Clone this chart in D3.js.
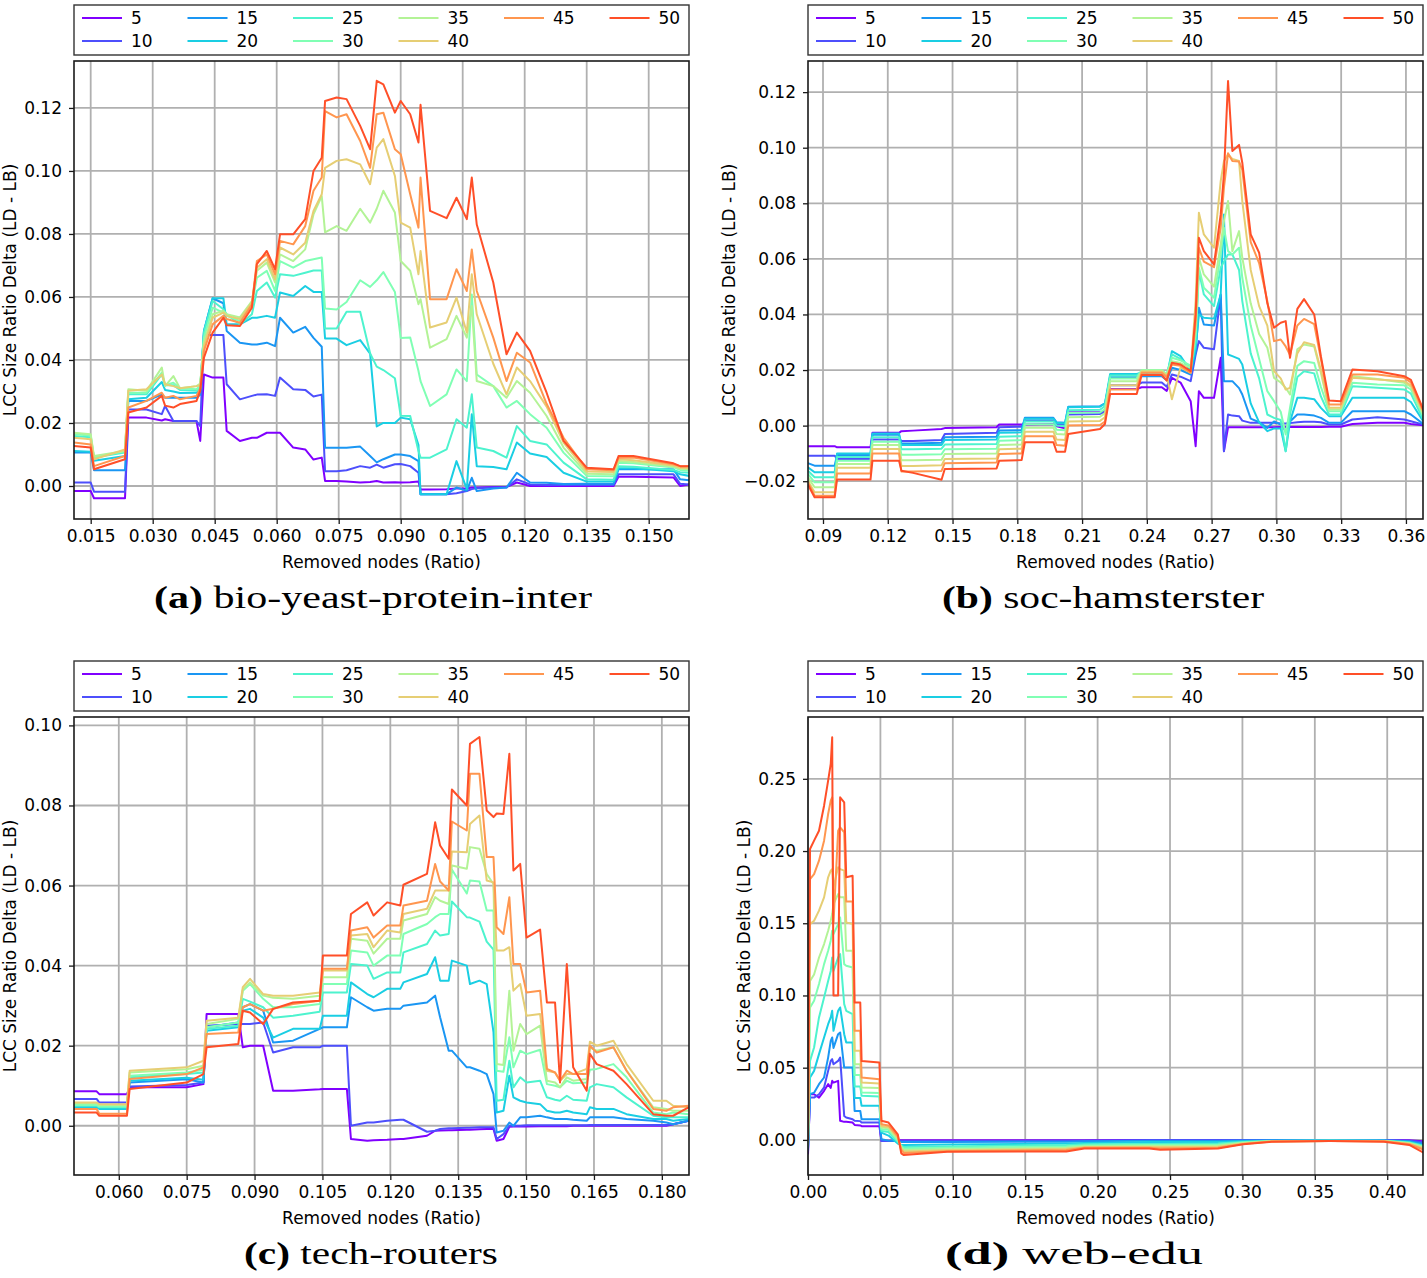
<!DOCTYPE html>
<html><head><meta charset="utf-8">
<script src="https://cdn.jsdelivr.net/npm/d3@7"></script>
<style>
body{margin:0;background:#fff;}
</style></head><body>
<svg id="chart" width="1427" height="1278"></svg>
<script>
// ---------- shared ----------
const seriesNames = ["5","10","15","20","25","30","35","40","45","50"];
const seriesColors = ["#8000ff","#4d4ffc","#1a96f3","#1acee3","#4df3ce","#80ffb4","#b3f396","#e6ce74","#ff964f","#ff4f28"];
const UNIT = 0.001; // series values below are in thousandths
const axisXLabel = "Removed nodes (Ratio)";
const axisYLabel = "LCC Size Ratio Delta (LD - LB)";

// ---------- (a) bio-yeast-protein-inter ----------
const xA = [0.01097,0.0150,0.0158,0.0233,0.0241,0.0285,0.0322,0.0330,0.0350,0.0366,0.0406,0.0415,0.0424,0.0445,0.0471,0.0479,0.0511,0.0540,0.0552,0.0576,0.0596,0.0608,0.0640,0.0669,0.0689,0.0709,0.0717,0.0745,0.0769,0.0802,0.0826,0.0842,0.0858,0.0886,0.0900,0.0923,0.0943,0.0948,0.0971,0.1011,0.1035,0.1060,0.1072,0.1084,0.1124,0.1156,0.1181,0.1213,0.1253,0.1294,0.1350,0.1415,0.1427,0.1463,0.1560,0.1576,0.1598];
const a5  = [-1.6,-1.6,-3.9,-3.9,21.7,21.7,20.8,21.2,20.6,20.6,20.6,14.3,35.4,34.4,34.4,17.5,14.3,15.3,15.3,16.9,16.9,16.9,12.2,11.6,8.4,9,1.6,1.6,1.4,1.1,1.3,1.6,1.1,1.2,1.1,1.2,1.4,-1.1,-1.1,-1,-0.8,-0.8,-0.5,-0.5,-0.3,-0.3,1.1,0,0,0,0,0,2.9,2.9,2.7,0,0.5];
const a10 = [1.1,1.1,-1.8,-1.8,24.3,24.3,22.8,25.4,20.6,20.6,20.6,19,47.9,47.9,47.9,32.3,27.5,28.6,29,29.1,28.6,34.4,30.7,30.5,28.4,29,4.7,4.7,5,6.3,5.8,6.8,5.8,6.9,7,6.3,4.2,-2.6,-2.6,-2.6,-2.3,-1.6,-1,-0.7,-0.5,-0.5,2.1,0.5,0.3,0.3,0.3,0.3,3.7,3.7,3.7,0.7,0.5];
const a15 = [10.6,10.6,5,5,27,27,29,28,28,28,28,29,49.2,59.6,58,49.2,45.5,44.9,44.9,45.5,44.4,53.4,48.7,50.5,47,44.2,12.1,12.1,12.1,12.5,9.5,7.5,8.5,10,10,9.5,7.9,-2.6,-2.6,-2.6,-0.5,-1.5,2.6,-1.6,-0.8,-0.5,4.2,1.1,1,0.6,0.7,0.7,5.3,5.3,5.3,2.1,1.8];
const a20 = [11.1,10.9,8,9.5,27.5,28,33,30.5,30,29.5,29.6,30.5,49.2,59.6,59.6,51.3,51.3,53.4,53.4,54,53.4,61.4,60.3,63.5,61.6,61.6,46.8,46.8,44.7,46.3,42,18.9,20,20,21.7,21.2,13,-2.6,-2.6,-2.6,7.9,-1,22.8,6.3,6,5.3,13.8,10.3,9.2,4.2,1.4,1.4,5.6,5.6,4.7,3.7,3.2];
const a25 = [15.9,15.5,9,10.6,29.1,29.1,35.4,32,32,30.5,30.2,31.5,48.7,58.7,56.1,54.5,51.3,54.5,61.9,64.6,59.8,67.2,66.7,67.7,68.4,68.4,50,50,55.3,55.3,42.1,37.9,36.8,34.2,22.3,22.2,11.1,9,9,11.6,21.2,18.5,29.1,12.2,11.1,9,19,14.3,13.2,7.4,2.1,2,6.3,6.1,5.1,4.4,4.2];
const a30 = [16.4,16,9,11.1,29.6,29.6,36,32,32.8,31,30.7,32,47.1,56.6,55,54,52.4,57.6,66.1,68.3,61.9,71.4,69.3,71.4,72,72.5,56.3,56,58.4,65.3,63.2,65.3,67.9,61.6,47,47.1,36.5,33.3,25.4,29.1,37,33.3,60.8,35.4,31.7,24.9,27,22.8,18.5,10.6,3.2,3.1,7.4,7.2,5.9,5.1,4.8];
const a35 = [16.9,16.4,9.5,11.1,30.7,30.2,37.6,31.7,34.9,31,31.7,32.5,45.5,54.5,55.6,54.5,53.5,58.7,68.3,70.9,64.6,73.5,71.4,75.1,86.2,92,80.5,82.5,81,88,83.6,88,93.7,86.8,71.4,68.3,57.7,59.3,43.9,46.6,54,47.1,57.1,33.3,31.7,28,33.3,29.6,22.2,12.2,3.9,3.7,7.9,7.6,6.2,5.5,5.3];
const a40 = [15.3,14.8,8.5,11.6,30.2,30.7,35.4,32.3,31.7,31,31.7,32,44.4,53.4,55,54,53,58.2,69.3,72,65.6,75.7,73.5,77.2,87.3,92.6,101,103.2,103.7,102.1,95.8,107.4,110.1,98.4,83.6,82,67.2,74.6,50.3,51.9,59.8,48.7,67.2,54.5,38.8,29.1,37.6,33.3,25.2,13.8,4.6,4.4,8.5,8.2,6.5,5.8,5.6];
const a45 = [13.8,13.2,6.3,9.5,24.9,27,29.6,28,28.6,27.5,28.6,31,42.9,51.3,54,53,51.8,57.6,71.4,73.5,67.2,77.8,76.7,82.5,93.7,97.9,119,117,118,109.5,101,118,118.5,106.9,105.3,92.6,82,97.9,59.3,59.3,68.8,61.9,75.1,61.9,47.1,33.3,42.3,39.2,26.1,15.3,5.3,5,9,9,6.9,6.3,6.3];
const a50 = [12.7,12.2,5.3,8.5,23.3,24.9,28.6,25.5,24.9,26,27,30.2,40.7,48.7,53.4,51,50.8,56.6,70.4,74.6,68.8,79.9,79.9,84.7,100,104.2,122.2,123.3,122.8,114.3,106.9,128.6,127.5,118.5,122.2,118,109,121,87.3,85,91.5,84.7,97.9,83,64.6,41.8,48.7,42.9,29.6,14.3,5.8,5.3,9.5,9.5,7.2,6.3,6.3];
const xTicksA = [0.015,0.030,0.045,0.060,0.075,0.090,0.105,0.120,0.135,0.150];
const yTicksA = [0.00,0.02,0.04,0.06,0.08,0.10,0.12];

// ---------- (b) soc-hamsterster ----------
const xB = [0.0830,0.0861,0.0954,0.0965,0.1120,0.1129,0.1252,0.1263,0.1317,0.1449,0.1464,0.1704,0.1716,0.1820,0.1835,0.1967,0.1982,0.2021,0.2036,0.2183,0.2206,0.2230,0.2353,0.2376,0.2469,0.2492,0.2516,0.2556,0.2603,0.2626,0.2641,0.2664,0.2711,0.2742,0.2757,0.2776,0.2796,0.2827,0.2842,0.2881,0.2920,0.2958,0.2989,0.3020,0.3043,0.3063,0.3097,0.3128,0.3175,0.3206,0.3244,0.3298,0.3352,0.3468,0.3592,0.3623,0.3680];
const b5  = [-7.4,-7.4,-7.4,-7.8,-7.8,-2.6,-2.6,-2.0,-1.8,-1.2,-0.9,-0.6,0.4,0.4,0.4,0.6,-0.2,-1.0,4.8,4.8,5,13.2,13.2,13.8,13.8,12.5,17.2,15.5,8.8,-7.4,12.4,10,10,24.4,-9.2,-0.6,-0.6,-0.6,-0.6,-0.6,-0.6,-0.6,-0.6,-0.5,-0.5,-0.5,-0.5,-0.5,-0.5,-0.5,-0.4,-0.4,0.6,1,1,0.6,0.1];
const b10 = [-10.8,-10.8,-10.8,-12.0,-12.0,-5,-5,-5.5,-5.5,-5.2,-3,-2.6,-0.6,-0.4,1.8,1.8,0.5,0.3,4,4.2,5,14.5,14.5,15.5,15.5,14,18.4,17.6,16,25.6,30.4,28,27.5,47,-9.2,4,3.6,3.4,1.8,1,1,1,1,0.8,0.8,0.9,1.2,1.4,1.4,1.2,0.4,0.4,2.2,3,2.2,1.6,0.4];
const b15 = [-13.5,-14.4,-14.4,-10.6,-10.6,-3.3,-3.3,-6.4,-6.4,-6.2,-4.2,-4.0,-1.8,-1.6,2.8,2.8,1.2,1.0,6.8,7,8,17.4,17.4,17.8,17.8,16.3,20.8,20,18.4,26.4,42.4,36.4,36,47.2,16,16,16,13.5,11.2,2.5,1.2,-0.8,1.5,0.4,-2,1.5,4,4,3.6,2.8,1,1,5.2,5.2,5.2,4,0.6];
const b20 = [-15,-16.8,-16.8,-10.0,-10.0,-2.8,-2.8,-7,-7,-7,-5.2,-5.0,-2.6,-2.4,2.5,2.5,1,0.8,6.6,6.8,8,18.6,18.6,19,19,17.5,26.8,25,19.6,28,40,38.8,38.5,47.2,76,25.6,25,24,22,8,1.2,-2,-1,-1,-9.2,1.5,10,10,9.5,6.4,3.4,3.4,10,10,10,8.5,1.6];
const b25 = [-16.2,-18.6,-18.6,-11.3,-11.3,-4.2,-4.2,-8.5,-8.5,-8.3,-6.8,-6.6,-4,-3.8,1.5,1.5,0,-0.2,5.5,5.7,7,18,18,19.5,19.5,18,25.6,24,20.8,30,55.6,47.2,43,56.8,59,61.6,61.6,56,44.8,26,17,4,2.8,2,-9.2,4,17.5,19.6,18.8,10.5,4,4,14.2,13.6,13,11.5,2.2];
const b30 = [-17.4,-20.4,-20.4,-12.6,-12.6,-5.8,-5.8,-10.5,-10.5,-10.3,-8.5,-8.3,-5.4,-5.2,0.5,0.5,-1.5,-1.7,4.5,4.7,6,17,17,20,20,18.5,24.4,23.5,21.6,33,56.8,49.6,46,61.6,71.2,62.8,61.6,64,53.2,36,24,12.4,8.8,5,-3.2,6.4,21.5,23.2,22.5,14,5.2,5.2,15.4,14.8,14.5,13,3.4];
const b35 = [-18.6,-22.2,-22.2,-13.8,-13.8,-7,-7,-12.5,-12.5,-12.3,-10.2,-10,-7,-6.8,-0.8,-0.8,-3,-3.2,3,3.2,4.5,16,16,19.8,19.8,18.3,23.2,22.5,20.8,35,60.4,54.4,50,65.2,73.6,80.8,62.8,70,60.4,44,33,28,17.2,15.5,13.6,11.2,27.5,29.2,28.5,19,5.8,5.8,17.8,16.8,15.4,14,4];
const b40 = [-19.8,-24,-24,-15.2,-15.2,-8.4,-8.4,-14.5,-14.5,-14.3,-12,-11.8,-8.5,-8.3,-2.2,-2.2,-5,-5.2,1.5,1.7,3,14.5,14.5,19.5,19.5,18,9.5,21,19,45,76.6,68.8,64,88,95.2,97.6,96,95.2,80.8,56,43,36,19.6,17,13,13.6,26,30,29,20,6.4,6.4,17.2,16.6,16,14.5,4.6];
const b45 = [-20.4,-25.2,-25.2,-17.2,-17.2,-10,-10,-16.5,-16.5,-16.3,-13.5,-13.3,-10.2,-10,-3.8,-3.8,-7,-7.2,0,0.2,1.5,13,13,19,19,17.5,22,21.5,19,37.5,64,59,57,71.2,85.6,98,95.2,95,92,66,58.5,44.8,30.4,31,28.5,25.5,36,38.4,36.5,24,7.6,7.6,18.4,18.4,17.2,15.5,5.2];
const b50 = [-21.2,-25.8,-25.8,-19.4,-19.4,-12.6,-12.6,-16.2,-17,-19.5,-15.6,-15.4,-12.6,-12.4,-6,-6,-9.4,-9.4,-3,-1.2,0.6,11.4,11.4,18.2,18.2,16.2,22.6,22,19.6,40,67.6,62.8,58,76,90.4,124,98.8,101,94.6,68.8,62.2,44,35.2,37,37.6,24.4,42,45.5,40,25,9,8.8,20.2,19.6,17.8,16.5,5.8];
const xTicksB = [0.09,0.12,0.15,0.18,0.21,0.24,0.27,0.30,0.33,0.36];
const yTicksB = [-0.02,0.00,0.02,0.04,0.06,0.08,0.10,0.12];

// ---------- (c) tech-routers ----------
const xC = [0.0501,0.0551,0.0557,0.0618,0.0624,0.0750,0.0787,0.0794,0.0864,0.0874,0.0890,0.0919,0.0941,0.0985,0.1044,0.1051,0.1104,0.1113,0.1149,0.1163,0.1193,0.1222,0.1229,0.1281,0.1299,0.1310,0.1329,0.1336,0.1369,0.1376,0.1397,0.1413,0.1428,0.1435,0.1450,0.1463,0.1472,0.1487,0.1501,0.1531,0.1546,0.1564,0.1575,0.1590,0.1604,0.1634,0.1641,0.1656,0.1693,0.1722,0.1781,0.1810,0.1825,0.1859];
const c5  = [8.6,8.6,7.9,7.9,9.6,9.6,10.4,27.9,27.9,19.6,20,20,8.75,8.75,9.1,9.2,9.2,-3.3,-3.75,-3.6,-3.5,-3.3,-3.3,-2.5,-1.25,-1.2,-1.1,-1.1,-1,-1,-0.9,-0.8,-0.8,-3.75,-3.3,-0.25,-0.2,-0.2,-0.2,-0.1,-0.1,-0.1,-0.1,-0.1,0,0,0,0,0,0,0,0,0.4,1.25];
const c10 = [6.7,6.7,5.8,5.8,9.8,10.2,10.8,25,25.4,25.4,25.4,25.8,18.3,19.6,19.6,20,20,0,0.8,0.8,1.25,1.5,1.5,-1.5,-1.25,-0.8,-0.6,-0.6,-0.5,-0.5,-0.4,-0.4,-0.4,-3.3,-2.1,0,0,0,0.1,0.1,0.1,0.1,0.1,0.1,0.1,0.1,0.2,0.2,0.2,0.2,0.2,0.2,0.4,1.25];
const c15 = [5,5,4.6,4.6,10.8,11.6,10.8,24.6,25.8,29.6,30.4,28.75,20.8,21.25,24.2,24.6,24.6,32.1,29.6,28.75,29.2,29.2,30,30.8,32.5,27.1,18.75,18.75,14.6,14.6,13.75,12.9,7.9,-1.7,-1.25,0.8,0,2.1,2.1,2.5,2.1,1.7,1.7,1.7,1.5,1.25,2.1,2.1,2.1,1.7,1.25,0.8,0.4,1.25];
const c20 = [4.6,4.6,4.2,4.2,11.25,12,11.5,23.75,24.6,28.75,29.2,27,22,24.2,24.2,27.5,27.5,35.8,32.9,32.1,34.2,34.2,35.8,37.9,42.1,36.25,36.25,41.25,40,35.4,36.25,35.4,23.3,3.3,3.75,12.5,7.1,6.25,5.8,5.4,3.75,3.3,3.3,3.75,3.3,2.9,4.6,4.2,4.2,2.9,1.7,1.7,1.25,1.7];
const c25 = [5,5,4.6,4.6,12.1,12.9,13.3,24.2,25,31.7,31,29.6,27,27.5,28.5,33.3,33.3,40.4,40,36.7,38.3,38.3,43.3,45.4,48.75,47.5,47.9,56,52.1,52,51,46,44,6.25,6.5,16.25,9.6,12.1,10.8,11.25,7.1,6.5,6.25,7.5,6.5,6.25,9.6,10.4,9.6,7.1,2.5,2.1,2.1,2.1];
const c30 = [5.2,5.2,4.8,4.8,12.5,13.3,14,24.6,25.8,33.75,35.4,31.7,29.6,29.6,30.4,35.4,35.4,43.75,43.3,40,42.5,42.5,47.9,50.4,52.1,52.9,52.9,64,58,61.25,61,53.75,53.75,13.75,13.5,22.1,14.6,18.75,17.9,19,10.4,10,9.6,11.25,10.6,10.8,14,14.2,15.4,12.1,3.3,2.9,3.3,2.9];
const c35 = [5.6,5.6,5.2,5.2,13.3,14.1,15,25.4,26.7,34,35.8,32.5,32,31.7,32.5,37.1,37.1,46.7,46.2,43,46.7,46.7,51.25,52.9,57.1,56.2,55.4,65,64.2,69.6,69.2,62.9,60.4,15.4,15.2,33.75,18.75,25.4,22.9,25,11.25,10.8,9.6,12.1,11.25,11.7,19.5,18.75,19.6,13.75,4.6,4.2,3.75,3.75];
const c40 = [5.8,5.8,5.4,5.4,13.75,14.6,16.25,26.25,27,34.6,36.7,32.9,32.5,32.5,33.3,38.75,38.75,47.5,47.9,44.6,48.75,48.3,52.9,54.2,58.75,58.75,58.75,68.5,68.3,75.4,77.5,61.25,60.8,43.75,43.75,44.6,33.75,35.4,27.5,27.9,13.75,13.3,11.25,12.9,12.9,14.2,21,20,21.25,15.4,6.25,6.25,5,4.6];
const c45 = [4.2,4.2,3,3,11.7,12.9,14.6,22.9,23.3,29.6,30.4,28.75,29.2,30.4,31.25,39.2,39.2,48.75,49.6,47,50,50,55,56.2,65.4,61,58.75,76,73.75,87.9,87.9,67.1,67.1,49.6,47.9,57.1,40.4,40.4,33.3,33.75,14.2,13.3,11.25,13.75,12.9,12.9,20,18.3,19.6,13.75,4.2,3.75,4.6,5];
const c50 = [3.3,3.3,2.5,2.5,9.2,10.8,12.9,19.6,20.4,28.75,28.3,25.4,29.2,30.8,31.25,42.5,42.5,52.9,55.8,52.5,55.8,55,60.2,62.9,75.8,70,66.7,84,80,95.4,97.1,78.75,77.1,78,77.9,92.9,63.75,65.4,47,49,30.8,30.8,10.8,40.4,14.6,8.75,18,15.4,13.75,10.4,2.9,2.5,2.5,4.6];
const xTicksC = [0.060,0.075,0.090,0.105,0.120,0.135,0.150,0.165,0.180];
const yTicksC = [0.00,0.02,0.04,0.06,0.08,0.10];

// ---------- (d) web-edu ----------
const xD = [0,0.0014,0.0042,0.0076,0.0111,0.0139,0.0157,0.0167,0.0176,0.0208,0.0222,0.0250,0.0264,0.0308,0.0322,0.0361,0.0370,0.0493,0.0507,0.0556,0.0620,0.0644,0.0662,0.0961,0.1784,0.1908,0.2357,0.2432,0.2831,0.3005,0.3205,0.3604,0.3978,0.4152,0.4260];
const d5  = [-10,31.6,31.6,29.3,34,38.6,36,40.9,39.7,40.9,13.2,12.5,12.5,12,10.4,10,9.5,9.5,-0.7,-0.5,-0.3,-0.3,-0.3,-0.3,-0.2,-0.2,-0.1,-0.1,0,0,0,0,-0.1,-0.3,-1];
const d10 = [-8,29.3,29.3,31.6,36.3,47.8,54.7,55.9,52.4,54.7,57,16.6,15.5,14.3,13.2,13,12,12,-0.7,-0.8,-0.8,-0.8,-0.8,-0.8,-0.6,-0.5,-0.3,-0.3,-0.2,-0.2,-0.1,-0.1,-0.2,-0.6,-1.8];
const d15 = [-6,31.6,32.7,38.6,43.2,57,68.6,70.9,63.7,73.2,74.4,50.1,50.1,50.1,20,20,14.3,14.3,0.5,-0.5,-1,-1.5,-1.5,-1.5,-1.2,-1,-0.5,-0.5,-0.5,-0.4,-0.3,-0.2,-0.3,-1,-3];
const d20 = [-5,43.2,47.8,59.4,70.9,80.1,84.8,89.4,75.5,89.4,91.7,73.2,67.4,67.4,29,29,23.6,23.6,5,3,-2.5,-3.5,-3.5,-3.2,-2.5,-2.2,-1.5,-1.5,-1.5,-1,-0.5,-0.4,-0.5,-1.5,-4];
const d25 = [-4,54.7,64,84.8,98.6,110,117,126.3,117,126.3,128.6,94,89.4,87,37,37,30.5,30,6.2,5.5,-1.5,-4,-5,-4.5,-3.5,-3,-2.8,-2.8,-2.5,-1.5,-0.7,-0.5,-0.6,-1.8,-4.3];
const d30 = [-3,91.7,96.3,107.9,121.7,131,137.9,144.8,142.5,149.4,154,121.7,120.6,119.4,45,45,32.8,32.5,7.4,7,-0.5,-4.5,-6,-5.5,-4.5,-3.8,-3.6,-3.6,-3.3,-1.8,-0.8,-0.6,-0.7,-2.1,-5];
const d35 = [-2,110,114.5,126.3,135.6,144.8,151.7,156.4,163.3,170.2,168,168,131,131,52.4,52.4,36.3,36,8.5,8,0.5,-5,-7,-6.5,-5.5,-4.5,-4.3,-4.3,-4,-2.2,-0.9,-0.7,-0.8,-2.4,-5.5];
const d40 = [-1,149.4,151.7,158.7,167.9,181.8,186.4,187.5,175,188.7,187.5,186.4,150.6,149.4,61.7,61.7,39.7,39,9.7,9,1.5,-6,-8,-7.2,-6.2,-5,-5,-5,-4.8,-2.5,-1,-0.8,-0.9,-2.7,-6];
const d45 = [0,180.6,184,193.3,207.2,225.6,234.9,237.2,150,214,216.4,213,165,165,75.5,75.5,43.2,42,10.9,10,2.5,-7,-9,-7.8,-7,-5.5,-5.5,-6,-5.5,-2.8,-1.1,-0.7,-1,-3,-7];
const d50 = [0,201.4,207.2,214,231.4,248.7,260.3,278.8,100,100,237.2,233.7,181.8,182.9,95.2,95.2,54.7,53.6,13.2,12,3.9,-9.3,-10.5,-8.2,-8,-6,-6,-6.8,-6,-3,-1.2,-0.8,-1.2,-3.5,-9.3];
const xTicksD = [0.00,0.05,0.10,0.15,0.20,0.25,0.30,0.35,0.40];
const yTicksD = [0.00,0.05,0.10,0.15,0.20,0.25];

// ---------- panel definitions (layout) ----------
const panels = [
  {x:xA, ys:[a5,a10,a15,a20,a25,a30,a35,a40,a45,a50], xDom:[0.01096,0.15975], yDom:[-0.01048,0.1349],
   xTicks:xTicksA, xFmt:".3f", yTicks:yTicksA, yFmt:".2f", box:[74,61,689,519], legTop:5, yLabX:10,
   capTag:"(a)", capText:" bio-yeast-protein-inter", capX:154, capW:438, capY:608},
  {x:xB, ys:[b5,b10,b15,b20,b25,b30,b35,b40,b45,b50], xDom:[0.08305,0.3679], yDom:[-0.0336,0.1312],
   xTicks:xTicksB, xFmt:".2f", yTicks:yTicksB, yFmt:".2f", box:[808,61,1423,519], legTop:5, yLabX:729,
   capTag:"(b)", capText:" soc-hamsterster", capX:942, capW:322, capY:608},
  {x:xC, ys:[c5,c10,c15,c20,c25,c30,c35,c40,c45,c50], xDom:[0.0501,0.1860], yDom:[-0.0123,0.1021],
   xTicks:xTicksC, xFmt:".3f", yTicks:yTicksC, yFmt:".2f", box:[74,717,689,1175], legTop:661, yLabX:10,
   capTag:"(c)", capText:" tech-routers", capX:244, capW:254, capY:1264},
  {x:xD, ys:[d5,d10,d15,d20,d25,d30,d35,d40,d45,d50], xDom:[0,0.4247], yDom:[-0.0243,0.2928],
   xTicks:xTicksD, xFmt:".2f", yTicks:yTicksD, yFmt:".2f", box:[808,717,1423,1175], legTop:661, yLabX:744,
   capTag:"(d)", capText:" web-edu", capX:945, capW:258, capY:1264}
];

const svg = d3.select("#chart");
svg.append("rect").attr("width",1427).attr("height",1278).attr("fill","#fff");
const FONT = "DejaVu Sans, sans-serif";

panels.forEach((p, pi) => {
  const [L,T,R,B] = p.box;
  const x = d3.scaleLinear().domain(p.xDom).range([L,R]);
  const y = d3.scaleLinear().domain(p.yDom).range([B,T]);
  const g = svg.append("g");

  // grid
  g.append("g").selectAll("line").data(p.xTicks).join("line")
    .attr("x1",d=>x(d)).attr("x2",d=>x(d)).attr("y1",T).attr("y2",B)
    .attr("stroke","#b0b0b0").attr("stroke-width",1.8);
  g.append("g").selectAll("line").data(p.yTicks).join("line")
    .attr("x1",L).attr("x2",R).attr("y1",d=>y(d)).attr("y2",d=>y(d))
    .attr("stroke","#b0b0b0").attr("stroke-width",1.8);

  // lines
  const clipId = "clip"+pi;
  svg.append("clipPath").attr("id",clipId).append("rect")
    .attr("x",L).attr("y",T).attr("width",R-L).attr("height",B-T);
  const line = d3.line().x((d,i)=>x(p.x[i])).y(d=>y(d*UNIT));
  const lg = g.append("g").attr("clip-path",`url(#${clipId})`);
  p.ys.forEach((s,k) => {
    lg.append("path").attr("d",line(s)).attr("fill","none")
      .attr("stroke",seriesColors[k]).attr("stroke-width",2)
      .attr("stroke-linejoin","round").attr("stroke-linecap","butt");
  });

  // frame
  g.append("rect").attr("x",L).attr("y",T).attr("width",R-L).attr("height",B-T)
    .attr("fill","none").attr("stroke","#1a1a1a").attr("stroke-width",1.6);

  // axes
  const xa = g.append("g").attr("transform",`translate(0,${B})`)
    .call(d3.axisBottom(x).tickValues(p.xTicks).tickFormat(d3.format(p.xFmt)).tickSize(5).tickPadding(6));
  const ya = g.append("g").attr("transform",`translate(${L},0)`)
    .call(d3.axisLeft(y).tickValues(p.yTicks).tickFormat(d3.format(p.yFmt)).tickSize(5).tickPadding(7));
  [xa,ya].forEach(a => {
    a.select(".domain").remove();
    a.attr("font-family",FONT).attr("font-size",17);
    a.selectAll("line").attr("stroke","#1a1a1a").attr("stroke-width",1.3);
    a.selectAll("text").attr("fill","#000");
  });

  // axis labels
  g.append("text").attr("x",(L+R)/2).attr("y",B+49).attr("text-anchor","middle")
    .attr("font-family",FONT).attr("font-size",17).attr("fill","#000").text(axisXLabel);
  g.append("text").attr("transform",`translate(${p.yLabX},${(T+B)/2}) rotate(-90)`)
    .attr("text-anchor","middle").attr("dominant-baseline","central")
    .attr("font-family",FONT).attr("font-size",17).attr("fill","#000").text(axisYLabel);

  // legend
  const lt = p.legTop;
  g.append("rect").attr("x",L).attr("y",lt).attr("width",R-L).attr("height",50)
    .attr("fill","#fff").attr("stroke","#333").attr("stroke-width",1.4);
  seriesNames.forEach((nm,i) => {
    const col = i < 8 ? Math.floor(i/2) : i - 4;
    const row = i < 8 ? i % 2 : 0;
    const lx = L + 8 + col*105.5;
    const ly = lt + 13 + row*23;
    g.append("line").attr("x1",lx).attr("x2",lx+40).attr("y1",ly).attr("y2",ly)
      .attr("stroke",seriesColors[i]).attr("stroke-width",2);
    g.append("text").attr("x",lx+49).attr("y",ly).attr("dy","0.35em")
      .attr("font-family",FONT).attr("font-size",17).attr("fill","#000").text(nm);
  });

  // caption
  const cap = svg.append("text").attr("x",p.capX).attr("y",p.capY)
    .attr("font-family","Liberation Serif, serif").attr("font-size",31).attr("fill","#000")
    .attr("textLength",p.capW).attr("lengthAdjust","spacingAndGlyphs");
  cap.append("tspan").attr("font-weight","bold").text(p.capTag);
  cap.append("tspan").text(p.capText);
});
</script>
</body></html>
